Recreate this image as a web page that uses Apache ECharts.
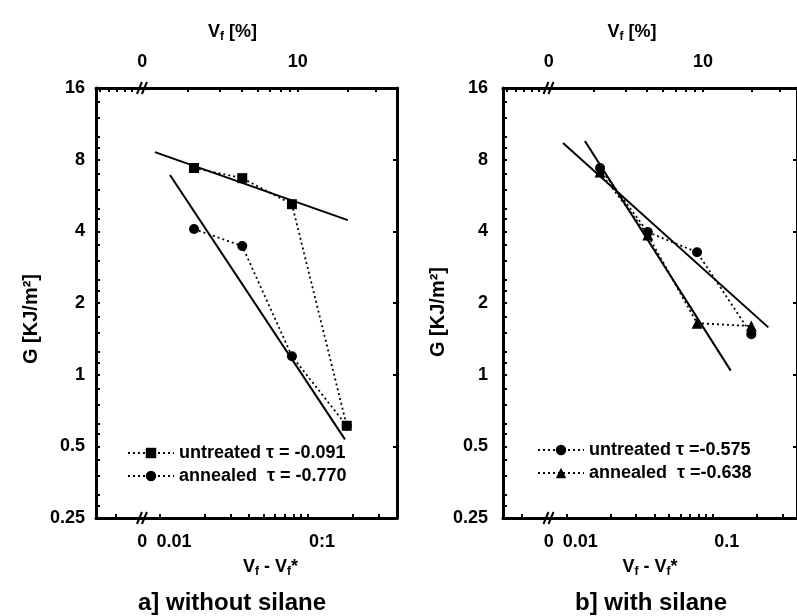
<!DOCTYPE html>
<html>
<head>
<meta charset="utf-8">
<script src="https://cdn.jsdelivr.net/npm/echarts@6/dist/echarts.min.js"></script>
<style>
  html, body { margin: 0; padding: 0; background: #fff; }
  #chart { width: 797px; height: 616px; }
</style>
</head>
<body>
<div id="chart"></div>
<script>
// x = Vf - Vf*, same four samples in both panels
const X_VALUES = [0.017, 0.036, 0.078, 0.183];

// a] without silane, G in KJ/m2
const A_UNTREATED = [7.38, 6.69, 5.2, 0.61];
const A_ANNEALED = [4.09, 3.47, 1.195, 0.61];
const A_FIT_UNTREATED_X = [0.00925, 0.186];
const A_FIT_UNTREATED_Y = [8.61, 4.46];
const A_FIT_ANNEALED_X = [0.0117, 0.178];
const A_FIT_ANNEALED_Y = [6.9, 0.535];

// b] with silane
const B_UNTREATED = [7.38, 3.97, 3.27, 1.48];
const B_ANNEALED = [7.1, 3.86, 1.645, 1.6];
const B_FIT_UNTREATED_X = [0.0095, 0.239];
const B_FIT_UNTREATED_Y = [9.4, 1.58];
const B_FIT_ANNEALED_X = [0.0134, 0.1324];
const B_FIT_ANNEALED_Y = [9.58, 1.04];

// legend texts
const A_NAMES = ['untreated \u03c4 = -0.091', 'annealed  \u03c4 = -0.770'];
const B_NAMES = ['untreated \u03c4 =-0.575', 'annealed  \u03c4 =-0.638'];

// axes
const Y_LABELS = [0.25, 0.5, 1, 2, 4, 8, 16];
const Y_MINOR = [1.125, 1.25, 1.5, 1.75];
const X_LABEL_VALUES = [0.0076, 0.01, 0.1];
const A_X_LABEL_TEXT = ['0', '0.01', '0:1'];
const B_X_LABEL_TEXT = ['0', '0.01', '0.1'];
const X_TICKS = [0.005, 0.01, 0.02, 0.03, 0.04, 0.05, 0.06, 0.07, 0.08, 0.09, 0.1, 0.2, 0.3, 0.4];
const X_BREAK = 0.0078;
const VF_STAR = 0.0145;
const TOP_TICK_VF = [3, 4, 5, 6, 7, 8, 9, 10, 20, 30];
const TOP_LEFT_TICKS = [0.0039, 0.0045, 0.0051, 0.0058, 0.0065];
const TOP_LABEL_VALUES = [0.0076, 0.0855];
const TOP_LABEL_TEXT = ['0', '10'];

const FONT = "'Liberation Sans', Arial, sans-serif";
const DOTS = [2, 3];

const chart = echarts.init(document.getElementById('chart'));

function nearestIndex(list, v) {
    let best = 0;
    for (let i = 1; i < list.length; i++) {
        if (Math.abs(Math.log(list[i] / v)) < Math.abs(Math.log(list[best] / v))) {
            best = i;
        }
    }
    return best;
}

function renderChart() {
    const yTicks = [];
    Y_LABELS.forEach(function (v) {
        yTicks.push(v);
        if (v < 16) {
            Y_MINOR.forEach(function (m) { yTicks.push(v * m); });
        }
    });
    const topTicks = TOP_LEFT_TICKS.concat(TOP_TICK_VF.map(function (vf) { return vf / 100 - VF_STAR; }));

    const panels = [
        {
            left: 96, width: 301, xMax: 0.4,
            xText: A_X_LABEL_TEXT, names: A_NAMES,
            yLabelMargin: 11, yNameGap: 54, yNamePad: [0, 32, 0, 0],
            botNamePad: [0, 0, 0, 48], topNamePad: [0, 28, 0, 0],
            legendLeft: 122, legendTop: 439,
            series: [
                { x: A_FIT_UNTREATED_X, y: A_FIT_UNTREATED_Y, fit: true },
                { x: A_FIT_ANNEALED_X, y: A_FIT_ANNEALED_Y, fit: true },
                { x: X_VALUES, y: A_ANNEALED, name: A_NAMES[1], symbol: 'circle', size: 10 },
                { x: X_VALUES, y: A_UNTREATED, name: A_NAMES[0], symbol: 'rect', size: 10 }
            ]
        },
        {
            left: 503, width: 297, xMax: 0.375,
            xText: B_X_LABEL_TEXT, names: B_NAMES,
            yLabelMargin: 15, yNameGap: 51, yNamePad: [0, 18, 0, 0],
            botNamePad: [0, 0, 0, 0], topNamePad: [0, 36, 0, 0],
            legendLeft: 532, legendTop: 436,
            series: [
                { x: B_FIT_UNTREATED_X, y: B_FIT_UNTREATED_Y, fit: true },
                { x: B_FIT_ANNEALED_X, y: B_FIT_ANNEALED_Y, fit: true },
                { x: X_VALUES, y: B_UNTREATED, name: B_NAMES[0], symbol: 'circle', size: 10 },
                { x: X_VALUES, y: B_ANNEALED, name: B_NAMES[1], symbol: 'triangle', size: 11 }
            ]
        }
    ];

    const axisLine = { show: true, lineStyle: { color: '#000', width: 3 } };
    const nameStyle = {
        color: '#000', fontFamily: FONT, fontWeight: 'bold', fontSize: 18, lineHeight: 22,
        rich: { sub: { fontFamily: FONT, fontWeight: 'bold', fontSize: 12, verticalAlign: 'bottom' } }
    };

    const options = {
        animation: false,
        backgroundColor: '#fff',
        textStyle: { fontFamily: FONT },
        title: [
            { text: 'a] without silane', left: 227, top: 586, textAlign: 'center',
              textStyle: { fontFamily: FONT, fontWeight: 'bold', fontSize: 24, color: '#000' } },
            { text: 'b] with silane', left: 646, top: 586, textAlign: 'center',
              textStyle: { fontFamily: FONT, fontWeight: 'bold', fontSize: 24, color: '#000' } }
        ],
        grid: [],
        xAxis: [],
        yAxis: [],
        legend: [],
        series: []
    };

    panels.forEach(function (p, i) {
        options.grid.push({ left: p.left, top: 88, width: p.width, height: 430, show: false });

        options.xAxis.push({
            type: 'log', gridIndex: i, position: 'bottom', min: 0.0037, max: p.xMax,
            splitLine: { show: false }, axisLine: axisLine,
            axisTick: { inside: true, length: 4, lineStyle: { color: '#000', width: 2 }, customValues: X_TICKS },
            axisLabel: {
                customValues: X_LABEL_VALUES, margin: 15,
                color: '#000', fontFamily: FONT, fontWeight: 'bold', fontSize: 18,
                formatter: function (v) {
                    const k = nearestIndex(X_LABEL_VALUES, v);
                    return k === 0 ? p.xText[k] : '{s|' + p.xText[k] + '}';
                },
                rich: { s: { fontFamily: FONT, fontWeight: 'bold', fontSize: 18, color: '#000', padding: [0, 0, 0, 28] } }
            },
            name: 'V{sub|f} - V{sub|f}*', nameLocation: 'middle', nameGap: 30,
            nameTextStyle: Object.assign({}, nameStyle, { padding: p.botNamePad })
        });
        options.xAxis.push({
            type: 'log', gridIndex: i, position: 'top', min: 0.0037, max: p.xMax,
            splitLine: { show: false }, axisLine: axisLine,
            axisTick: { inside: true, length: 4, lineStyle: { color: '#000', width: 2 }, customValues: topTicks },
            axisLabel: {
                customValues: TOP_LABEL_VALUES, margin: 17,
                color: '#000', fontFamily: FONT, fontWeight: 'bold', fontSize: 18,
                formatter: function (v) { return TOP_LABEL_TEXT[nearestIndex(TOP_LABEL_VALUES, v)]; }
            },
            name: 'V{sub|f} [%]', nameLocation: 'middle', nameGap: 45,
            nameTextStyle: Object.assign({}, nameStyle, { padding: p.topNamePad })
        });

        options.yAxis.push({
            type: 'log', logBase: 2, gridIndex: i, position: 'left', min: 0.25, max: 16,
            splitLine: { show: false }, axisLine: axisLine,
            axisTick: { inside: true, length: 4, lineStyle: { color: '#000', width: 2 }, customValues: yTicks },
            axisLabel: {
                customValues: Y_LABELS, margin: p.yLabelMargin,
                color: '#000', fontFamily: FONT, fontWeight: 'bold', fontSize: 18,
                formatter: function (v) { return String(+(+v).toPrecision(4)); }
            },
            name: 'G [KJ/m\u00b2]', nameLocation: 'middle', nameGap: p.yNameGap, nameRotate: 90,
            nameTextStyle: Object.assign({}, nameStyle, { fontSize: 20, padding: p.yNamePad })
        });
        options.yAxis.push({
            type: 'log', logBase: 2, gridIndex: i, position: 'right', min: 0.25, max: 16,
            splitLine: { show: false }, axisLine: axisLine,
            axisTick: { inside: true, length: 4, lineStyle: { color: '#000', width: 2 }, customValues: Y_LABELS },
            axisLabel: { show: false }
        });

        options.legend.push({
            data: p.names, orient: 'vertical', left: p.legendLeft, top: p.legendTop,
            itemWidth: 46, itemHeight: 13, itemGap: 5,
            textStyle: { color: '#000', fontFamily: FONT, fontWeight: 'bold', fontSize: 18 }
        });

        p.series.forEach(function (s) {
            const data = s.x.map(function (x, k) { return [x, s.y[k]]; });
            if (s.fit) {
                options.series.push({
                    type: 'line', xAxisIndex: 2 * i, yAxisIndex: 2 * i, data: data,
                    symbol: 'none', silent: true,
                    lineStyle: { color: '#000', width: 2 }
                });
            } else {
                options.series.push({
                    type: 'line', name: s.name, xAxisIndex: 2 * i, yAxisIndex: 2 * i, data: data,
                    symbol: s.symbol, symbolSize: s.size,
                    itemStyle: { color: '#000' },
                    lineStyle: { color: '#000', width: 1.8, type: DOTS }
                });
            }
        });
    });

    chart.setOption(options, true);

    // "//" marks where the axes are broken
    const graphics = [];
    panels.forEach(function (p, i) {
        const bx = chart.convertToPixel({ xAxisIndex: 2 * i }, X_BREAK);
        const yTop = chart.convertToPixel({ yAxisIndex: 2 * i }, 16);
        const yBot = chart.convertToPixel({ yAxisIndex: 2 * i }, 0.25);
        [yTop, yBot].forEach(function (y) {
            graphics.push({
                type: 'group', x: bx, y: y, z: 100,
                children: [
                    { type: 'rect', shape: { x: -4, y: -3, width: 7, height: 6 }, style: { fill: '#fff' } },
                    { type: 'line', shape: { x1: -7, y1: 6, x2: -2, y2: -6 }, style: { stroke: '#000', lineWidth: 2 } },
                    { type: 'line', shape: { x1: -2, y1: 6, x2: 3, y2: -6 }, style: { stroke: '#000', lineWidth: 2 } }
                ]
            });
        });
    });
    chart.setOption({ graphic: graphics });
}

renderChart();
</script>
</body>
</html>
